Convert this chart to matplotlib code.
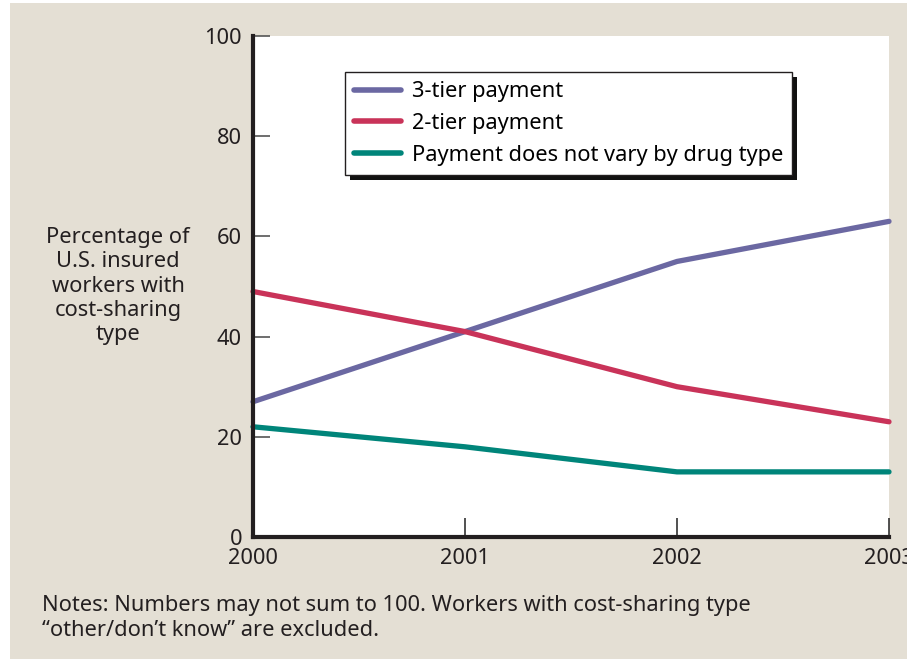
import matplotlib.pyplot as plt
from matplotlib.patches import Rectangle
from matplotlib.transforms import IdentityTransform

plt.rcParams['font.family'] = ['Noto Sans', 'DejaVu Sans']

years = [2000, 2001, 2002, 2003]
three_tier = [27, 41, 55, 63]
two_tier = [49, 41, 30, 23]
no_vary = [22, 18, 13, 13]
series_labels = ['3-tier payment', '2-tier payment', 'Payment does not vary by drug type']
colors = ['#6b68a2', '#c93359', '#00857a']
yticks = [0, 20, 40, 60, 80, 100]

W, H = 907, 659
fs = 15.7
fig = plt.figure(figsize=(W / 100, H / 100), dpi=100, facecolor='white')
bg = '#e4dfd4'
fig.patches.append(Rectangle((10 / W, 0), 1, 1 - 3 / H, transform=fig.transFigure,
                             facecolor=bg, edgecolor='none', zorder=-10))

# plot area in pixels
left, right, top, bottom = 253, 889, 36, 537
ax = fig.add_axes([left / W, 1 - bottom / H, (right - left) / W, (bottom - top) / H])
ax.set_facecolor('white')

for vals, lab, c in zip([three_tier, two_tier, no_vary], series_labels, colors):
    ax.plot(years, vals, color=c, lw=3.8, label=lab, solid_capstyle='round',
            solid_joinstyle='round', clip_on=False, zorder=3)

ax.set_xlim(2000, 2003)
ax.set_ylim(0, 100)
ax.set_xticks(years)
ax.set_yticks(yticks)
ax.tick_params(axis='y', direction='in', length=12, width=1.2, color='#555555',
               labelsize=fs, pad=8, labelcolor='#231f20')
ax.tick_params(axis='x', direction='in', length=14, width=1.2, color='#333333',
               labelsize=fs, pad=8, labelcolor='#231f20')

for s in ['top', 'right']:
    ax.spines[s].set_visible(False)
for s in ['left', 'bottom']:
    ax.spines[s].set_linewidth(3)
    ax.spines[s].set_color('#231f20')
    ax.spines[s].set_zorder(4)

fig.text(118 / W, 1 - 286 / H,
         'Percentage of\nU.S. insured\nworkers with\ncost-sharing\ntype',
         ha='center', va='center', fontsize=fs, color='#231f20', linespacing=1.2)

fig.text(42 / W, 1 - 618 / H,
         'Notes: Numbers may not sum to 100. Workers with cost-sharing type\n'
         '\u201cother/don\u2019t know\u201d are excluded.',
         ha='left', va='center', fontsize=fs, color='#231f20', linespacing=1.2)

leg = ax.legend(loc='upper left', bbox_to_anchor=((345 - left) / (right - left),
                                                  1 - (72 - top) / (bottom - top)),
                fancybox=False, frameon=True, fontsize=fs, handlelength=2.15,
                handletextpad=0.5, borderpad=0.42, labelspacing=0.5,
                borderaxespad=0)
leg.get_frame().set_edgecolor('#231f20')
leg.get_frame().set_linewidth(1)
leg.get_frame().set_alpha(1)
for line in leg.get_lines():
    line.set_linewidth(4)

fig.canvas.draw()
bb = leg.get_window_extent()
ax.add_patch(Rectangle((bb.x0 + 5, bb.y0 - 5), bb.width, bb.height,
                       transform=IdentityTransform(), facecolor='#111111',
                       edgecolor='none', zorder=4.5, clip_on=False))

fig.savefig('out.png', dpi=100, facecolor=fig.get_facecolor())
